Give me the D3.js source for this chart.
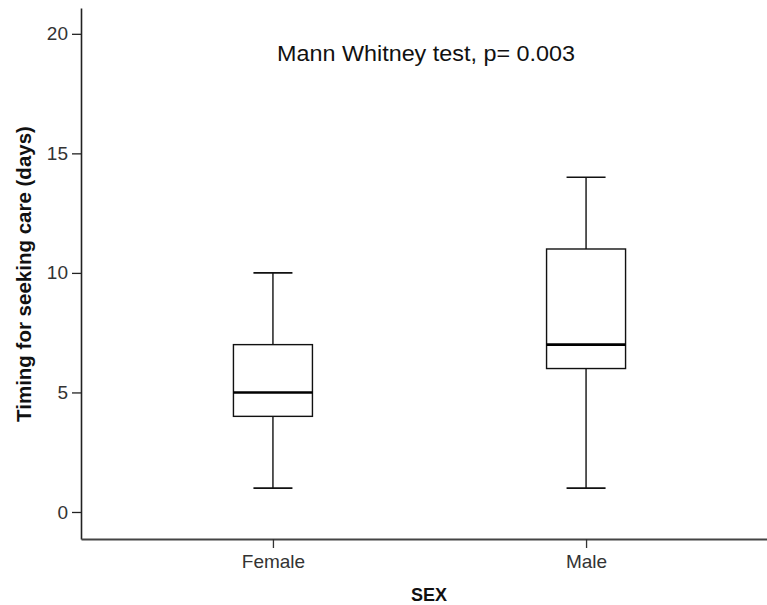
<!DOCTYPE html>
<html>
<head>
<meta charset="utf-8">
<script src="https://cdn.jsdelivr.net/npm/d3@7"></script>
<style>
body { margin:0; background:#fff; }
svg text { font-family: "Liberation Sans", Arial, sans-serif; }
</style>
</head>
<body>
<svg id="chart"></svg>
<script>
// box plot summaries
var groups = ["Female", "Male"];
var mins = [1, 1];
var q1s = [4, 6];
var medians = [5, 7];
var q3s = [7, 11];
var maxs = [10, 14];
var yTicks = [0, 5, 10, 15, 20];
var title = "Mann Whitney test, p= 0.003";

var screen = {width:767, height:605};

var svg = d3.select("#chart")
    .attr("width", screen.width)
    .attr("height", screen.height);

var yScale = d3.scaleLinear()
    .domain([-1.13, 21.08])
    .range([539, 8]);

var xScale = d3.scalePoint()
    .domain(groups)
    .range([81, 778])
    .padding(0.613);

var rows = groups.map(function(g, i) {
    return {name:g, min:mins[i], q1:q1s[i], med:medians[i], q3:q3s[i], max:maxs[i]};
});

// axes
var yAxis = d3.axisLeft(yScale)
    .tickValues(yTicks)
    .tickSizeInner(9)
    .tickSizeOuter(0)
    .tickPadding(4);

var yg = svg.append("g")
    .attr("transform", "translate(81,0)")
    .call(yAxis);
yg.select(".domain").attr("stroke", "#222").attr("stroke-width", 1.6);
yg.selectAll(".tick line").attr("stroke", "#222").attr("stroke-width", 1.3);
yg.selectAll(".tick text")
    .attr("fill", "#333")
    .style("font-size", "19px");

var xAxis = d3.axisBottom(xScale)
    .tickSizeInner(9)
    .tickSizeOuter(0)
    .tickPadding(7);

var xg = svg.append("g")
    .attr("transform", "translate(0,539)")
    .call(xAxis);
xg.select(".domain").attr("stroke", "#444").attr("stroke-width", 1.8);
xg.selectAll(".tick line").attr("stroke", "#333").attr("stroke-width", 1.3);
xg.selectAll(".tick text")
    .attr("fill", "#333")
    .style("font-size", "19px");

// boxes
var boxW = 79, capW = 39;
var g = svg.append("g").classed("boxes", true);

var box = g.selectAll("g.box")
    .data(rows)
    .enter()
    .append("g")
    .classed("box", true);

box.append("line")
    .attr("x1", function(d){ return xScale(d.name); })
    .attr("x2", function(d){ return xScale(d.name); })
    .attr("y1", function(d){ return yScale(d.max); })
    .attr("y2", function(d){ return yScale(d.q3); })
    .attr("stroke", "#111").attr("stroke-width", 1.4);

box.append("line")
    .attr("x1", function(d){ return xScale(d.name); })
    .attr("x2", function(d){ return xScale(d.name); })
    .attr("y1", function(d){ return yScale(d.q1); })
    .attr("y2", function(d){ return yScale(d.min); })
    .attr("stroke", "#111").attr("stroke-width", 1.4);

box.append("line")
    .attr("x1", function(d){ return xScale(d.name) - capW/2; })
    .attr("x2", function(d){ return xScale(d.name) + capW/2; })
    .attr("y1", function(d){ return yScale(d.max); })
    .attr("y2", function(d){ return yScale(d.max); })
    .attr("stroke", "#111").attr("stroke-width", 1.6);

box.append("line")
    .attr("x1", function(d){ return xScale(d.name) - capW/2; })
    .attr("x2", function(d){ return xScale(d.name) + capW/2; })
    .attr("y1", function(d){ return yScale(d.min); })
    .attr("y2", function(d){ return yScale(d.min); })
    .attr("stroke", "#111").attr("stroke-width", 1.6);

box.append("rect")
    .attr("x", function(d){ return xScale(d.name) - boxW/2; })
    .attr("width", boxW)
    .attr("y", function(d){ return yScale(d.q3); })
    .attr("height", function(d){ return yScale(d.q1) - yScale(d.q3); })
    .attr("fill", "#fff")
    .attr("stroke", "#111").attr("stroke-width", 1.4);

box.append("line")
    .attr("x1", function(d){ return xScale(d.name) - boxW/2; })
    .attr("x2", function(d){ return xScale(d.name) + boxW/2; })
    .attr("y1", function(d){ return yScale(d.med); })
    .attr("y2", function(d){ return yScale(d.med); })
    .attr("stroke", "#000").attr("stroke-width", 2.6);

// texts
svg.append("text")
    .attr("x", 277)
    .attr("y", 61)
    .attr("textLength", 298)
    .attr("lengthAdjust", "spacingAndGlyphs")
    .attr("fill", "#111")
    .style("font-size", "22px")
    .text(title);

svg.append("text")
    .attr("transform", "translate(31,274) rotate(-90)")
    .attr("text-anchor", "middle")
    .attr("fill", "#111")
    .style("font-size", "20.5px")
    .style("font-weight", "bold")
    .text("Timing for seeking care (days)");

svg.append("text")
    .attr("x", 429)
    .attr("y", 601)
    .attr("text-anchor", "middle")
    .attr("fill", "#111")
    .style("font-size", "18px")
    .style("font-weight", "bold")
    .text("SEX");
</script>
</body>
</html>
